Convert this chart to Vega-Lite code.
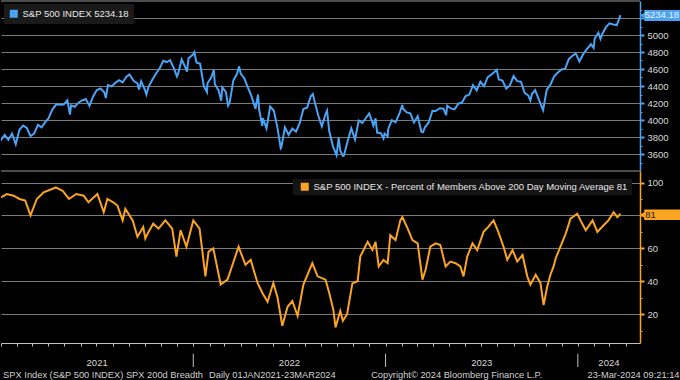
{
  "$schema": "https://vega.github.io/schema/vega-lite/v6.json",
  "background": "#000000",
  "padding": 0,
  "spacing": 0,
  "bounds": "flush",
  "config": {
    "view": {"stroke": null},
    "font": "Liberation Sans",
    "axis": {"labelFont": "Liberation Sans", "labelFontSize": 9.5, "labelColor": "#d9d9d9", "gridColor": "#7a7a7a", "gridWidth": 1},
    "legend": {"labelFont": "Liberation Sans", "labelFontSize": 9.5, "labelColor": "#e6e6e6", "symbolType": "square", "symbolSize": 64, "labelOffset": 4, "labelLimit": 600}
  },
  "datasets": {
    "spx": [
      {"d": "2020-12-31", "v": 3756}, {"d": "2021-01-08", "v": 3824}, {"d": "2021-01-15", "v": 3768}, {"d": "2021-01-22", "v": 3841}, {"d": "2021-01-29", "v": 3714},
      {"d": "2021-02-05", "v": 3886}, {"d": "2021-02-12", "v": 3934}, {"d": "2021-02-19", "v": 3906}, {"d": "2021-02-26", "v": 3811},
      {"d": "2021-03-05", "v": 3841}, {"d": "2021-03-12", "v": 3943}, {"d": "2021-03-19", "v": 3913}, {"d": "2021-03-26", "v": 3974},
      {"d": "2021-04-01", "v": 4019}, {"d": "2021-04-09", "v": 4128}, {"d": "2021-04-16", "v": 4185}, {"d": "2021-04-23", "v": 4180}, {"d": "2021-04-30", "v": 4181},
      {"d": "2021-05-07", "v": 4232}, {"d": "2021-05-12", "v": 4063}, {"d": "2021-05-14", "v": 4173}, {"d": "2021-05-21", "v": 4156}, {"d": "2021-05-28", "v": 4204},
      {"d": "2021-06-04", "v": 4230}, {"d": "2021-06-11", "v": 4247}, {"d": "2021-06-18", "v": 4166}, {"d": "2021-06-25", "v": 4281},
      {"d": "2021-07-02", "v": 4352}, {"d": "2021-07-09", "v": 4370}, {"d": "2021-07-16", "v": 4327}, {"d": "2021-07-19", "v": 4259}, {"d": "2021-07-23", "v": 4411}, {"d": "2021-07-30", "v": 4395},
      {"d": "2021-08-06", "v": 4437}, {"d": "2021-08-13", "v": 4468}, {"d": "2021-08-20", "v": 4442}, {"d": "2021-08-27", "v": 4509},
      {"d": "2021-09-02", "v": 4537}, {"d": "2021-09-10", "v": 4459}, {"d": "2021-09-17", "v": 4433}, {"d": "2021-09-20", "v": 4358}, {"d": "2021-09-24", "v": 4455},
      {"d": "2021-10-01", "v": 4357}, {"d": "2021-10-04", "v": 4300}, {"d": "2021-10-08", "v": 4391}, {"d": "2021-10-15", "v": 4471}, {"d": "2021-10-22", "v": 4545}, {"d": "2021-10-29", "v": 4605},
      {"d": "2021-11-05", "v": 4697}, {"d": "2021-11-12", "v": 4682}, {"d": "2021-11-18", "v": 4704}, {"d": "2021-11-26", "v": 4595},
      {"d": "2021-12-01", "v": 4513}, {"d": "2021-12-03", "v": 4538}, {"d": "2021-12-10", "v": 4712}, {"d": "2021-12-17", "v": 4620}, {"d": "2021-12-20", "v": 4568}, {"d": "2021-12-23", "v": 4726}, {"d": "2021-12-31", "v": 4766},
      {"d": "2022-01-03", "v": 4797}, {"d": "2022-01-07", "v": 4677}, {"d": "2022-01-14", "v": 4662}, {"d": "2022-01-21", "v": 4398}, {"d": "2022-01-27", "v": 4327}, {"d": "2022-01-28", "v": 4432},
      {"d": "2022-02-04", "v": 4500}, {"d": "2022-02-09", "v": 4587}, {"d": "2022-02-11", "v": 4419}, {"d": "2022-02-18", "v": 4349}, {"d": "2022-02-23", "v": 4226}, {"d": "2022-02-25", "v": 4385},
      {"d": "2022-03-04", "v": 4329}, {"d": "2022-03-08", "v": 4170}, {"d": "2022-03-11", "v": 4204}, {"d": "2022-03-18", "v": 4463}, {"d": "2022-03-25", "v": 4543}, {"d": "2022-03-29", "v": 4631},
      {"d": "2022-04-01", "v": 4546}, {"d": "2022-04-08", "v": 4488}, {"d": "2022-04-14", "v": 4393}, {"d": "2022-04-22", "v": 4272}, {"d": "2022-04-29", "v": 4132},
      {"d": "2022-05-04", "v": 4300}, {"d": "2022-05-06", "v": 4123}, {"d": "2022-05-12", "v": 3930}, {"d": "2022-05-13", "v": 4024}, {"d": "2022-05-20", "v": 3901}, {"d": "2022-05-27", "v": 4158},
      {"d": "2022-06-03", "v": 4109}, {"d": "2022-06-10", "v": 3901}, {"d": "2022-06-16", "v": 3667}, {"d": "2022-06-17", "v": 3675}, {"d": "2022-06-24", "v": 3912},
      {"d": "2022-07-01", "v": 3825}, {"d": "2022-07-08", "v": 3899}, {"d": "2022-07-15", "v": 3863}, {"d": "2022-07-22", "v": 3962}, {"d": "2022-07-29", "v": 4130},
      {"d": "2022-08-05", "v": 4145}, {"d": "2022-08-12", "v": 4280}, {"d": "2022-08-16", "v": 4305}, {"d": "2022-08-19", "v": 4228}, {"d": "2022-08-26", "v": 4058},
      {"d": "2022-09-02", "v": 3924}, {"d": "2022-09-09", "v": 4067}, {"d": "2022-09-12", "v": 4110}, {"d": "2022-09-16", "v": 3873}, {"d": "2022-09-23", "v": 3693}, {"d": "2022-09-30", "v": 3586},
      {"d": "2022-10-04", "v": 3791}, {"d": "2022-10-07", "v": 3640}, {"d": "2022-10-12", "v": 3577}, {"d": "2022-10-14", "v": 3583}, {"d": "2022-10-21", "v": 3752}, {"d": "2022-10-28", "v": 3901},
      {"d": "2022-11-04", "v": 3771}, {"d": "2022-11-11", "v": 3993}, {"d": "2022-11-18", "v": 3965}, {"d": "2022-11-25", "v": 4026},
      {"d": "2022-12-01", "v": 4077}, {"d": "2022-12-09", "v": 3934}, {"d": "2022-12-13", "v": 4019}, {"d": "2022-12-16", "v": 3852}, {"d": "2022-12-23", "v": 3845}, {"d": "2022-12-28", "v": 3783}, {"d": "2022-12-30", "v": 3840},
      {"d": "2023-01-05", "v": 3808}, {"d": "2023-01-06", "v": 3895}, {"d": "2023-01-13", "v": 3999}, {"d": "2023-01-20", "v": 3973}, {"d": "2023-01-27", "v": 4071},
      {"d": "2023-02-02", "v": 4179}, {"d": "2023-02-03", "v": 4136}, {"d": "2023-02-10", "v": 4090}, {"d": "2023-02-17", "v": 4079}, {"d": "2023-02-24", "v": 3970},
      {"d": "2023-03-03", "v": 4046}, {"d": "2023-03-10", "v": 3862}, {"d": "2023-03-13", "v": 3855}, {"d": "2023-03-17", "v": 3917}, {"d": "2023-03-24", "v": 3971}, {"d": "2023-03-31", "v": 4109},
      {"d": "2023-04-06", "v": 4105}, {"d": "2023-04-14", "v": 4138}, {"d": "2023-04-21", "v": 4133}, {"d": "2023-04-26", "v": 4056}, {"d": "2023-04-28", "v": 4169},
      {"d": "2023-05-05", "v": 4136}, {"d": "2023-05-12", "v": 4124}, {"d": "2023-05-19", "v": 4192}, {"d": "2023-05-26", "v": 4205},
      {"d": "2023-06-02", "v": 4282}, {"d": "2023-06-09", "v": 4299}, {"d": "2023-06-16", "v": 4410}, {"d": "2023-06-23", "v": 4348}, {"d": "2023-06-30", "v": 4450},
      {"d": "2023-07-07", "v": 4399}, {"d": "2023-07-14", "v": 4505}, {"d": "2023-07-21", "v": 4536}, {"d": "2023-07-31", "v": 4589},
      {"d": "2023-08-04", "v": 4478}, {"d": "2023-08-11", "v": 4464}, {"d": "2023-08-18", "v": 4370}, {"d": "2023-08-25", "v": 4406},
      {"d": "2023-09-01", "v": 4516}, {"d": "2023-09-08", "v": 4457}, {"d": "2023-09-15", "v": 4450}, {"d": "2023-09-22", "v": 4320}, {"d": "2023-09-29", "v": 4288},
      {"d": "2023-10-03", "v": 4229}, {"d": "2023-10-06", "v": 4308}, {"d": "2023-10-12", "v": 4350}, {"d": "2023-10-20", "v": 4224}, {"d": "2023-10-27", "v": 4117},
      {"d": "2023-11-03", "v": 4358}, {"d": "2023-11-10", "v": 4415}, {"d": "2023-11-17", "v": 4514}, {"d": "2023-11-24", "v": 4559},
      {"d": "2023-12-01", "v": 4595}, {"d": "2023-12-08", "v": 4604}, {"d": "2023-12-15", "v": 4719}, {"d": "2023-12-22", "v": 4755}, {"d": "2023-12-28", "v": 4783},
      {"d": "2024-01-04", "v": 4688}, {"d": "2024-01-12", "v": 4784}, {"d": "2024-01-19", "v": 4840}, {"d": "2024-01-26", "v": 4891},
      {"d": "2024-01-31", "v": 4846}, {"d": "2024-02-02", "v": 4959}, {"d": "2024-02-09", "v": 5027}, {"d": "2024-02-13", "v": 4953}, {"d": "2024-02-16", "v": 5006}, {"d": "2024-02-23", "v": 5089},
      {"d": "2024-03-01", "v": 5137}, {"d": "2024-03-08", "v": 5124}, {"d": "2024-03-15", "v": 5117}, {"d": "2024-03-22", "v": 5234.18}
    ],
    "breadth": [
      {"d": "2021-01-01", "v": 91}, {"d": "2021-01-12", "v": 93}, {"d": "2021-01-25", "v": 92}, {"d": "2021-02-05", "v": 90}, {"d": "2021-02-16", "v": 89},
      {"d": "2021-02-26", "v": 80}, {"d": "2021-03-10", "v": 90}, {"d": "2021-03-23", "v": 94}, {"d": "2021-04-15", "v": 97}, {"d": "2021-04-28", "v": 95},
      {"d": "2021-05-10", "v": 90}, {"d": "2021-05-24", "v": 93}, {"d": "2021-06-07", "v": 92}, {"d": "2021-06-16", "v": 88}, {"d": "2021-07-03", "v": 93},
      {"d": "2021-07-15", "v": 82}, {"d": "2021-07-22", "v": 90}, {"d": "2021-08-02", "v": 88}, {"d": "2021-08-10", "v": 86}, {"d": "2021-08-20", "v": 77},
      {"d": "2021-08-25", "v": 84}, {"d": "2021-09-08", "v": 77}, {"d": "2021-09-17", "v": 67}, {"d": "2021-09-28", "v": 73}, {"d": "2021-10-02", "v": 66},
      {"d": "2021-10-08", "v": 70}, {"d": "2021-10-17", "v": 75}, {"d": "2021-10-27", "v": 72}, {"d": "2021-11-09", "v": 77}, {"d": "2021-11-22", "v": 72},
      {"d": "2021-11-30", "v": 55}, {"d": "2021-12-08", "v": 71}, {"d": "2021-12-19", "v": 61}, {"d": "2022-01-01", "v": 77}, {"d": "2022-01-13", "v": 72},
      {"d": "2022-01-24", "v": 43}, {"d": "2022-01-30", "v": 58}, {"d": "2022-02-08", "v": 60}, {"d": "2022-02-22", "v": 38}, {"d": "2022-03-07", "v": 41},
      {"d": "2022-03-28", "v": 61}, {"d": "2022-04-10", "v": 50}, {"d": "2022-04-20", "v": 53}, {"d": "2022-05-03", "v": 39}, {"d": "2022-05-12", "v": 33},
      {"d": "2022-05-22", "v": 27.5}, {"d": "2022-06-02", "v": 39}, {"d": "2022-06-10", "v": 30}, {"d": "2022-06-19", "v": 13}, {"d": "2022-06-29", "v": 24.5},
      {"d": "2022-07-08", "v": 28}, {"d": "2022-07-18", "v": 19}, {"d": "2022-07-29", "v": 38}, {"d": "2022-08-15", "v": 51}, {"d": "2022-08-25", "v": 43},
      {"d": "2022-09-09", "v": 41}, {"d": "2022-09-16", "v": 33}, {"d": "2022-09-24", "v": 22.5}, {"d": "2022-09-28", "v": 12}, {"d": "2022-10-07", "v": 22},
      {"d": "2022-10-12", "v": 16}, {"d": "2022-10-20", "v": 20}, {"d": "2022-10-30", "v": 38.7}, {"d": "2022-11-09", "v": 40}, {"d": "2022-11-14", "v": 55},
      {"d": "2022-11-28", "v": 64}, {"d": "2022-12-07", "v": 59}, {"d": "2022-12-13", "v": 64}, {"d": "2022-12-19", "v": 49}, {"d": "2022-12-28", "v": 53},
      {"d": "2023-01-05", "v": 51}, {"d": "2023-01-10", "v": 68}, {"d": "2023-01-20", "v": 65}, {"d": "2023-01-29", "v": 77}, {"d": "2023-02-02", "v": 79},
      {"d": "2023-02-12", "v": 72}, {"d": "2023-02-21", "v": 65}, {"d": "2023-03-03", "v": 63}, {"d": "2023-03-12", "v": 41}, {"d": "2023-03-18", "v": 47},
      {"d": "2023-03-27", "v": 61}, {"d": "2023-04-06", "v": 63}, {"d": "2023-04-15", "v": 62}, {"d": "2023-04-25", "v": 49}, {"d": "2023-05-04", "v": 52},
      {"d": "2023-05-14", "v": 51}, {"d": "2023-05-23", "v": 49}, {"d": "2023-05-29", "v": 43}, {"d": "2023-06-05", "v": 55}, {"d": "2023-06-15", "v": 63},
      {"d": "2023-06-24", "v": 59}, {"d": "2023-07-06", "v": 70}, {"d": "2023-07-15", "v": 73}, {"d": "2023-07-25", "v": 77}, {"d": "2023-08-03", "v": 70},
      {"d": "2023-08-13", "v": 61}, {"d": "2023-08-20", "v": 53}, {"d": "2023-08-30", "v": 59}, {"d": "2023-09-08", "v": 52}, {"d": "2023-09-18", "v": 56},
      {"d": "2023-09-27", "v": 43}, {"d": "2023-10-03", "v": 38}, {"d": "2023-10-13", "v": 44}, {"d": "2023-10-22", "v": 39}, {"d": "2023-10-28", "v": 25.5},
      {"d": "2023-11-04", "v": 37}, {"d": "2023-11-10", "v": 44}, {"d": "2023-11-16", "v": 49}, {"d": "2023-11-20", "v": 54}, {"d": "2023-11-29", "v": 61},
      {"d": "2023-12-09", "v": 69}, {"d": "2023-12-18", "v": 78}, {"d": "2023-12-31", "v": 81}, {"d": "2024-01-06", "v": 77}, {"d": "2024-01-16", "v": 71},
      {"d": "2024-01-29", "v": 77}, {"d": "2024-02-07", "v": 70}, {"d": "2024-02-19", "v": 74}, {"d": "2024-02-28", "v": 77}, {"d": "2024-03-09", "v": 82},
      {"d": "2024-03-16", "v": 79}, {"d": "2024-03-22", "v": 81}
    ],
    "years": [
      {"year": "2021", "start": "2021-01-01", "end": "2022-01-01"},
      {"year": "2022", "start": "2022-01-01", "end": "2023-01-01"},
      {"year": "2023", "start": "2023-01-01", "end": "2024-01-01"},
      {"year": "2024", "start": "2024-01-01", "end": "2024-04-28"}
    ]
  },
  "resolve": {"scale": {"color": "independent", "x": "independent", "y": "independent"}, "legend": {"color": "independent"}},
  "vconcat": [
    {
      "width": 639,
      "height": 170,
      "layer": [
        {
          "data": {"name": "spx"},
          "mark": {"type": "line", "strokeWidth": 2, "clip": true},
          "encoding": {
            "x": {"field": "d", "type": "temporal", "scale": {"domain": [{"year": 2021, "month": 1, "date": 1, "utc": true}, {"year": 2024, "month": 4, "date": 28, "utc": true}]}, "axis": null},
            "y": {
              "field": "v", "type": "quantitative",
              "scale": {"domain": [3400, 5400], "nice": false, "zero": false},
              "axis": {
                "orient": "right", "title": null, "format": "d",
                "tickCount": 100,
                "values": [3500, 3600, 3700, 3800, 3900, 4000, 4100, 4200, 4300, 4400, 4500, 4600, 4700, 4800, 4900, 5000, 5100, 5200, 5300],
                "labelExpr": "datum.value % 200 == 0 && datum.value != 5200 ? datum.label : ''",
                "labelOverlap": false,
                "domainColor": "#4aa3f5", "domainWidth": 1.5,
                "tickColor": "#4aa3f5",
                "tickSize": {"condition": {"test": "datum.value % 200 != 0", "value": 2}, "value": 4},
                "tickWidth": {"condition": {"test": "datum.value % 200 != 0", "value": 1}, "value": 2},
                "grid": true,
                "gridOpacity": {"condition": {"test": "datum.value % 200 != 0", "value": 0}, "value": 1},
                "labelPadding": 3
              }
            },
            "color": {
              "datum": "S&P 500 INDEX 5234.18", "type": "nominal",
              "scale": {"range": ["#4aa3f5"]},
              "legend": {"title": null, "orient": "top-left", "offset": 3, "padding": 5, "fillColor": "#1a1a1a",
                "encode": {"symbols": {"update": {"fill": {"value": "#4aa3f5"}, "stroke": {"value": "#4aa3f5"}, "strokeWidth": {"value": 0}}}}}
            }
          }
        },
        {
          "data": {"values": [{}]},
          "mark": {"type": "rule", "color": "#4d4d4d", "strokeWidth": 2},
          "encoding": {"y": {"datum": 5400, "type": "quantitative"}}
        },
        {
          "data": {"values": [{}]},
          "mark": {"type": "rect", "color": "#4aa3f5"},
          "encoding": {
            "x": {"datum": {"year": 2024, "month": 5, "date": 6, "utc": true}, "type": "temporal"},
            "x2": {"datum": {"year": 2024, "month": 7, "date": 13, "utc": true}},
            "y": {"datum": 5165, "type": "quantitative"},
            "y2": {"datum": 5295}
          }
        },
        {
          "data": {"values": [{}]},
          "mark": {"type": "point", "shape": "triangle-left", "filled": true, "size": 45, "color": "#4aa3f5", "opacity": 1},
          "encoding": {
            "x": {"datum": {"year": 2024, "month": 5, "date": 3, "utc": true}, "type": "temporal"},
            "y": {"datum": 5230, "type": "quantitative"}
          }
        },
        {
          "data": {"values": [{}]},
          "mark": {"type": "text", "text": "5234.18", "align": "left", "baseline": "middle", "fontSize": 9.5, "color": "#eaf4ff"},
          "encoding": {
            "x": {"datum": {"year": 2024, "month": 5, "date": 7, "utc": true}, "type": "temporal"},
            "y": {"datum": 5230, "type": "quantitative"}
          }
        }
      ]
    },
    {
      "width": 639,
      "height": 172,
      "layer": [
        {
          "data": {"name": "breadth"},
          "mark": {"type": "line", "strokeWidth": 2, "clip": true},
          "encoding": {
            "x": {
              "field": "d", "type": "temporal",
              "scale": {"domain": [{"year": 2021, "month": 1, "date": 1, "utc": true}, {"year": 2024, "month": 4, "date": 28, "utc": true}]},
              "axis": {"orient": "bottom", "title": null, "labels": false, "grid": false, "tickCount": {"interval": "month", "step": 1}, "tickSize": 3, "tickColor": "#bfbfbf", "domainColor": "#bfbfbf"}
            },
            "y": {
              "field": "v", "type": "quantitative",
              "scale": {"domain": [2.5, 107], "nice": false, "zero": false},
              "axis": {
                "orient": "right", "title": null,
                "tickCount": 100,
                "values": [10, 20, 30, 40, 50, 60, 70, 80, 90, 100],
                "labelExpr": "datum.value % 20 == 0 && datum.value != 80 ? datum.label : ''",
                "labelOverlap": false,
                "domainColor": "#fba422", "domainWidth": 1.5,
                "tickColor": "#fba422",
                "tickSize": {"condition": {"test": "datum.value % 20 != 0", "value": 2}, "value": 4},
                "tickWidth": {"condition": {"test": "datum.value % 20 != 0", "value": 1}, "value": 2},
                "grid": true,
                "gridOpacity": {"condition": {"test": "datum.value % 20 != 0", "value": 0}, "value": 1},
                "labelPadding": 3
              }
            },
            "color": {
              "datum": "S&P 500 INDEX - Percent of Members Above 200 Day Moving Average 81", "type": "nominal",
              "scale": {"range": ["#fba422"]},
              "legend": {"title": null, "orient": "top-right", "offset": 8, "padding": 3, "symbolOffset": 4, "fillColor": "#141414",
                "encode": {"symbols": {"update": {"fill": {"value": "#fba422"}, "stroke": {"value": "#fba422"}, "strokeWidth": {"value": 0}}}}}
            }
          }
        },
        {
          "data": {"values": [{}]},
          "mark": {"type": "rule", "color": "#4d4d4d", "strokeWidth": 2},
          "encoding": {"y": {"datum": 107, "type": "quantitative"}}
        },
        {
          "data": {"values": [{}]},
          "mark": {"type": "rect", "color": "#fba422"},
          "encoding": {
            "x": {"datum": {"year": 2024, "month": 5, "date": 6, "utc": true}, "type": "temporal"},
            "x2": {"datum": {"year": 2024, "month": 7, "date": 13, "utc": true}},
            "y": {"datum": 77.2, "type": "quantitative"},
            "y2": {"datum": 83.6}
          }
        },
        {
          "data": {"values": [{}]},
          "mark": {"type": "point", "shape": "triangle-left", "filled": true, "size": 45, "color": "#fba422", "opacity": 1},
          "encoding": {
            "x": {"datum": {"year": 2024, "month": 5, "date": 3, "utc": true}, "type": "temporal"},
            "y": {"datum": 80.4, "type": "quantitative"}
          }
        },
        {
          "data": {"values": [{}]},
          "mark": {"type": "text", "text": "81", "align": "left", "baseline": "middle", "fontSize": 9.5, "color": "#1a1a1a"},
          "encoding": {
            "x": {"datum": {"year": 2024, "month": 5, "date": 8, "utc": true}, "type": "temporal"},
            "y": {"datum": 80.4, "type": "quantitative"}
          }
        }
      ]
    },
    {
      "width": 639,
      "height": 38,
      "layer": [
        {
          "data": {"name": "years"},
          "transform": [{"calculate": "(time(toDate(datum.start)) + time(toDate(datum.end))) / 2", "as": "mid"}],
          "mark": {"type": "text", "color": "#d9d9d9", "fontSize": 9.5, "baseline": "middle", "align": "center"},
          "encoding": {
            "x": {"field": "mid", "type": "temporal", "scale": {"domain": [{"year": 2021, "month": 1, "date": 1, "utc": true}, {"year": 2024, "month": 4, "date": 28, "utc": true}]}, "axis": null},
            "y": {"datum": 19.5, "type": "quantitative", "scale": {"domain": [0, 38], "reverse": true, "nice": false}, "axis": null},
            "text": {"field": "year"}
          }
        },
        {
          "data": {"name": "years"},
          "transform": [{"filter": "datum.year != '2021'"}],
          "mark": {"type": "rule", "color": "#bfbfbf", "strokeWidth": 1},
          "encoding": {
            "x": {"field": "start", "type": "temporal"},
            "y": {"datum": 10.7, "type": "quantitative"},
            "y2": {"datum": 24}
          }
        },
        {
          "data": {"values": [{}]},
          "mark": {"type": "text", "text": "SPX Index (S&P 500 INDEX) SPX 200d Breadth", "align": "left", "baseline": "middle", "fontSize": 9.3, "color": "#d0d0d0"},
          "encoding": {
            "x": {"datum": {"year": 2021, "month": 1, "date": 5, "utc": true}, "type": "temporal"},
            "y": {"datum": 31.5, "type": "quantitative"}
          }
        },
        {
          "data": {"values": [{}]},
          "mark": {"type": "text", "text": "Daily 01JAN2021-23MAR2024", "align": "left", "baseline": "middle", "fontSize": 9.3, "color": "#d0d0d0"},
          "encoding": {
            "x": {"datum": {"year": 2022, "month": 1, "date": 31, "utc": true}, "type": "temporal"},
            "y": {"datum": 31.5, "type": "quantitative"}
          }
        },
        {
          "data": {"values": [{}]},
          "mark": {"type": "text", "text": "Copyright© 2024 Bloomberg Finance L.P.", "align": "center", "baseline": "middle", "fontSize": 9.3, "color": "#d0d0d0"},
          "encoding": {
            "x": {"datum": {"year": 2023, "month": 5, "date": 16, "utc": true}, "type": "temporal"},
            "y": {"datum": 31.5, "type": "quantitative"}
          }
        },
        {
          "data": {"values": [{}]},
          "mark": {"type": "text", "text": "23-Mar-2024 09:21:14", "align": "right", "baseline": "middle", "fontSize": 9.3, "color": "#d0d0d0"},
          "encoding": {
            "x": {"datum": {"year": 2024, "month": 7, "date": 12, "utc": true}, "type": "temporal"},
            "y": {"datum": 31.5, "type": "quantitative"}
          }
        }
      ]
    }
  ]
}
